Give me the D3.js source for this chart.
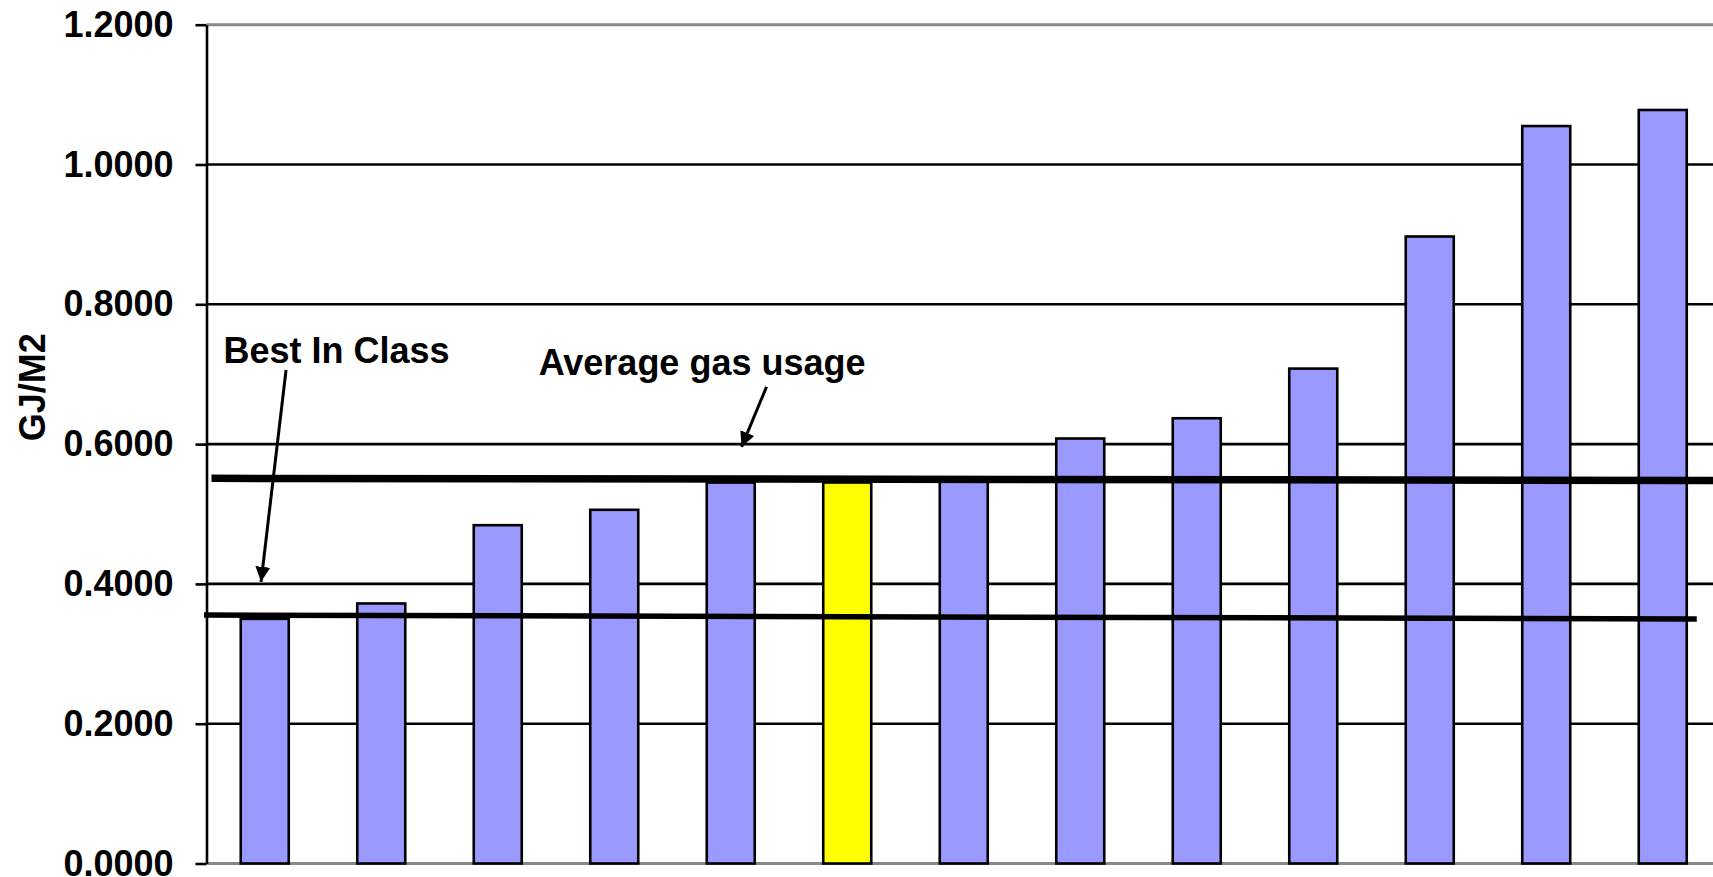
<!DOCTYPE html>
<html>
<head>
<meta charset="utf-8">
<script src="https://cdn.jsdelivr.net/npm/d3@7/dist/d3.min.js"></script>
<style>
  html, body { margin: 0; padding: 0; background: #ffffff; overflow: hidden; }
  svg { display: block; }
  text { font-family: "Liberation Sans", Arial, sans-serif; font-weight: bold; fill: #000; }
</style>
</head>
<body>
<svg id="chart" width="1713" height="877"></svg>
<script>
// ---- data ----
const categories = ["1","2","3","4","5","6","7","8","9","10","11","12","13"];
const values     = [0.350, 0.372, 0.484, 0.506, 0.545, 0.545, 0.548, 0.608, 0.637, 0.708, 0.897, 1.055, 1.078];
const highlight  = [false,false,false,false,false,true,false,false,false,false,false,false,false];
const yTicks     = [0, 0.2, 0.4, 0.6, 0.8, 1.0, 1.2];
const yLabel     = "GJ/M2";
const avgLine    = [0.551, 0.548];   // hand-drawn average line (left, right)
const bestLine   = [0.3555, 0.3498]; // hand-drawn best-in-class line (left, right)
const avgText    = "Average gas usage";
const bestText   = "Best In Class";

// ---- layout ----
const svg = d3.select("#chart");
const plotLeft = 206.5, plotTop = 24.7, plotBottom = 863.5, bandStep = 116.5;
const x = d3.scaleBand().domain(categories)
  .range([plotLeft, plotLeft + bandStep * categories.length])
  .paddingInner(0.588).paddingOuter(0.294);
const y = d3.scaleLinear().domain([0, 1.2]).range([plotBottom, plotTop]);
const plotRight = x.range()[1];

// gridlines (interior)
svg.append("g").selectAll("line")
  .data(yTicks.filter(t => t > 0 && t < 1.2))
  .join("line")
  .attr("x1", plotLeft).attr("x2", plotRight)
  .attr("y1", d => y(d)).attr("y2", d => y(d))
  .attr("stroke", "#000").attr("stroke-width", 2.6);

// plot-area border (gray) top & bottom
svg.append("g").selectAll("line")
  .data([0, 1.2])
  .join("line")
  .attr("x1", plotLeft).attr("x2", plotRight)
  .attr("y1", d => y(d)).attr("y2", d => y(d))
  .attr("stroke", "#888").attr("stroke-width", 3);

// bars
svg.append("g").selectAll("rect")
  .data(values)
  .join("rect")
  .attr("x", (d, i) => x(categories[i]))
  .attr("width", x.bandwidth())
  .attr("y", d => y(d))
  .attr("height", d => y(0) - y(d))
  .attr("fill", (d, i) => highlight[i] ? "#FFFF00" : "#9999FF")
  .attr("stroke", "#000").attr("stroke-width", 2.6);

// y axis
const yAxis = d3.axisLeft(y).tickValues(yTicks).tickFormat(d3.format(".4f"))
  .tickSize(11).tickSizeOuter(0).tickPadding(22);
const ag = svg.append("g").attr("transform", `translate(${plotLeft},0)`).call(yAxis);
ag.select(".domain").attr("stroke", "#000").attr("stroke-width", 2.6);
ag.selectAll(".tick line").attr("stroke", "#000").attr("stroke-width", 2.6);
ag.selectAll(".tick text")
  .attr("font-family", "'Liberation Sans', Arial, sans-serif")
  .attr("font-size", 36).attr("font-weight", "bold").attr("fill", "#000");

// y label
svg.append("text")
  .attr("transform", `translate(45,${(y(0.6) + y(0.8)) / 2 + 13}) rotate(-90)`)
  .attr("text-anchor", "middle")
  .attr("font-size", 36)
  .text(yLabel);

// hand-drawn reference lines
svg.append("line")
  .attr("x1", plotLeft + 5).attr("x2", plotRight)
  .attr("y1", y(avgLine[0])).attr("y2", y(avgLine[1]))
  .attr("stroke", "#000").attr("stroke-width", 7.5);
svg.append("line")
  .attr("x1", plotLeft - 2.5).attr("x2", x(categories[12]) + x.bandwidth() + 10)
  .attr("y1", y(bestLine[0])).attr("y2", y(bestLine[1]))
  .attr("stroke", "#000").attr("stroke-width", 5.5);

// arrow marker
svg.append("defs").append("marker")
  .attr("id", "arr").attr("viewBox", "0 0 10 10")
  .attr("refX", 10).attr("refY", 5)
  .attr("markerWidth", 5).attr("markerHeight", 5.5)
  .attr("markerUnits", "strokeWidth")
  .attr("orient", "auto")
  .append("path").attr("d", "M0,0 L10,5 L0,10 Z").attr("fill", "#000");

// annotations
const b0 = x(categories[0]);
svg.append("text").attr("x", b0 - 17.3).attr("y", y(0.7165)).attr("font-size", 36).text(bestText);
svg.append("line")
  .attr("x1", b0 + 45.3).attr("y1", y(0.706))
  .attr("x2", b0 + 20.3).attr("y2", y(0.403))
  .attr("stroke", "#000").attr("stroke-width", 3).attr("marker-end", "url(#arr)");

const b5 = x(categories[5]);
svg.append("text").attr("x", b5 - 284.6).attr("y", y(0.699)).attr("font-size", 36).text(avgText);
svg.append("line")
  .attr("x1", b5 - 56.7).attr("y1", y(0.682))
  .attr("x2", b5 - 81.7).attr("y2", y(0.596))
  .attr("stroke", "#000").attr("stroke-width", 3).attr("marker-end", "url(#arr)");
</script>
</body>
</html>
